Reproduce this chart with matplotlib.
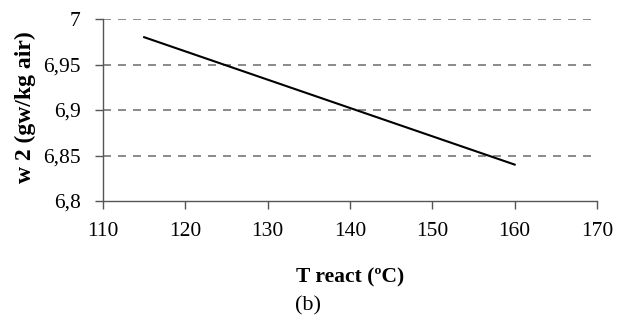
import matplotlib
matplotlib.use("Agg")
import matplotlib.pyplot as plt
from matplotlib.ticker import FuncFormatter

# data
t_react = [115, 160]
w2 = [6.98, 6.84]
x_ticks = [110, 120, 130, 140, 150, 160, 170]
y_ticks = [6.8, 6.85, 6.9, 6.95, 7.0]

plt.rcParams['font.family'] = ['Liberation Serif', 'DejaVu Serif']

fig = plt.figure(figsize=(6.25, 3.19), dpi=100)
ax = fig.add_axes([103/625, 1 - 201/319, (597 - 103)/625, (201 - 19)/319])

ax.plot(t_react, w2, color='black', lw=1.5)

ax.set_xlim(110, 170)
ax.set_ylim(6.8, 7.0)
ax.set_xticks(x_ticks)
ax.set_yticks(y_ticks)
ax.yaxis.set_major_formatter(FuncFormatter(lambda v, p: ('%g' % round(v, 2)).replace('.', ',')))

# dashed horizontal grid
for y in y_ticks[1:]:
    ax.axhline(y, color='#777777', lw=1.2, ls=(0, (4.8, 4.2)), zorder=0)

for s in ['top', 'right']:
    ax.spines[s].set_visible(False)
for s in ['left', 'bottom']:
    ax.spines[s].set_color('#555555')
    ax.spines[s].set_linewidth(1.0)
ax.tick_params(axis='both', colors='#555555', labelcolor='black', labelsize=15.5, length=6, width=1.0)
ax.tick_params(axis='x', pad=9)
ax.tick_params(axis='y', pad=10)

ax.set_xlabel('T react (ºC)', fontsize=15.5, fontweight='bold')
ax.set_ylabel('w 2 (gw/kg air)', fontsize=17, fontweight='bold')
ax.xaxis.set_label_coords(0.5, -0.418)
ax.yaxis.set_label_coords(-0.158, 0.516)
ax.xaxis.label.set_va('center')
ax.yaxis.label.set_va('center')

fig.text(308/625, 1 - 306/319, '(b)', ha='center', va='center', fontsize=16)

fig.savefig('out.png', dpi=100)
